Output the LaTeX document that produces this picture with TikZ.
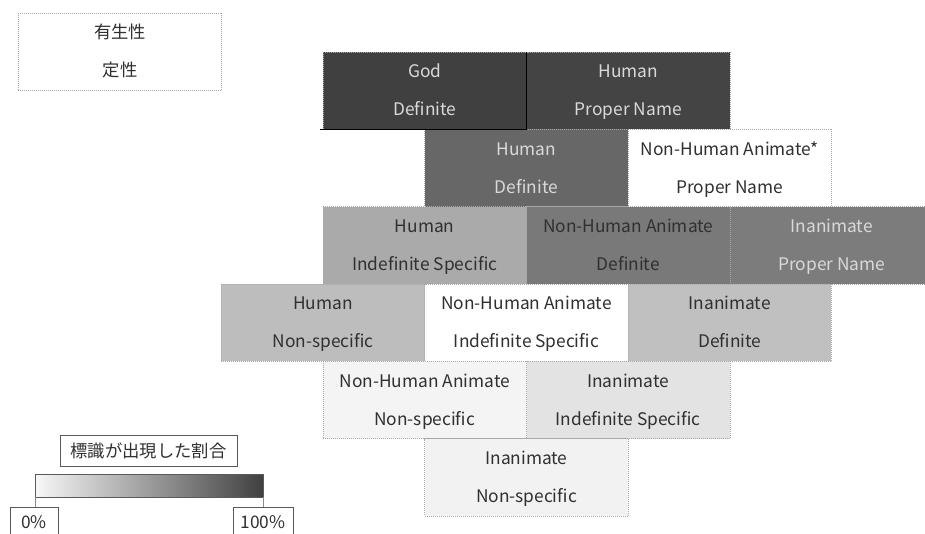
\documentclass[tikz,border=0pt]{standalone}
\usepackage{fontspec}
\setmainfont{Noto Sans CJK JP}
\definecolor{cA}{HTML}{404040}
\definecolor{cB}{HTML}{444444}
\definecolor{cC}{HTML}{676767}
\definecolor{cD}{HTML}{AAAAAA}
\definecolor{cE}{HTML}{797979}
\definecolor{cF}{HTML}{7C7C7C}
\definecolor{cG}{HTML}{BDBDBD}
\definecolor{cH}{HTML}{C0C0C0}
\definecolor{cI}{HTML}{F4F4F4}
\definecolor{cJ}{HTML}{E3E3E3}
\definecolor{cK}{HTML}{F2F2F2}
\definecolor{txtlight}{HTML}{D9D9D9}
\definecolor{txtdark}{HTML}{303030}
\definecolor{edge}{HTML}{A8A8A8}
\definecolor{lgd}{HTML}{5A5A5A}
\newcommand\lnstrut{\vrule width 0pt height 12.5pt depth 3.5pt}
\newcommand\twolines[2]{\lnstrut #1\\\lnstrut #2}
\begin{document}
\begin{tikzpicture}[x=0.75pt,y=-0.75pt,
  cell/.style={draw=edge, densely dotted, line width=0.5pt, minimum width=152.6pt,
    minimum height=58pt, inner sep=0pt, outer sep=0pt, align=center,
    font=\fontsize{13}{28.5}\selectfont, text=txtdark},
  lighttext/.style={text=txtlight},
  lbox/.style={draw=lgd, line width=0.7pt, inner sep=0pt, outer sep=0pt,
    font=\fontsize{13}{15}\selectfont, text=txtdark}
]
\clip (0,0) rectangle (925,533);
\useasboundingbox (0,0) rectangle (925,533);
\fill[white] (0,0) rectangle (925,533);

% legend top-left
\node[cell] (legend) at (120,51.5) {\twolines{有生性}{定性}};

% row 1
\node[cell, fill=cA, lighttext] (god) at (424.75,90.67) {\twolines{God}{Definite}};
\node[cell, fill=cB, lighttext] (humprop) at (628.25,90.67) {\twolines{Human}{Proper Name}};
% row 2
\node[cell, fill=cC, lighttext] (humdef) at (526.5,168) {\twolines{Human}{Definite}};
\node[cell, fill=white] (nhaprop) at (729.75,168) {\twolines{Non-Human Animate*}{Proper Name}};
% row 3
\node[cell, fill=cD] (humindef) at (424.75,245.3) {\twolines{Human}{Indefinite Specific}};
\node[cell, fill=cE] (nhadef) at (628.25,245.3) {\twolines{Non-Human Animate}{Definite}};
\node[cell, fill=cF, lighttext] (inprop) at (831.75,245.3) {\twolines{Inanimate}{Proper Name}};
% row 4
\node[cell, fill=cG] (humnon) at (323,322.7) {\twolines{Human}{Non-specific}};
\node[cell, fill=white] (nhaindef) at (526.5,322.7) {\twolines{Non-Human Animate}{Indefinite Specific}};
\node[cell, fill=cH] (indef) at (729.75,322.7) {\twolines{Inanimate}{Definite}};
% row 5
\node[cell, fill=cI] (nhanon) at (424.75,400) {\twolines{Non-Human Animate}{Non-specific}};
\node[cell, fill=cJ] (inindef) at (628.25,400) {\twolines{Inanimate}{Indefinite Specific}};
% row 6
\node[cell, fill=cK] (innon) at (526.5,477.3) {\twolines{Inanimate}{Non-specific}};

% solid edges of the God cell
\draw[black, line width=0.7pt] ([xshift=-2.5pt]god.south west) -- (god.south east) -- (god.north east);

% bottom-left legend
\node[lbox, minimum width=132.75pt, minimum height=23.25pt] (title) at (148.5,450.5) {標識が出現した割合};
\node[draw=lgd, line width=0.7pt, left color=white!97!black, right color=cA,
  minimum width=171pt, minimum height=17.25pt, inner sep=0pt, outer sep=0pt] (bar) at (149,485.5) {};
\node[lbox, minimum width=36pt, minimum height=22.5pt] (zero) at (34,522) {0\%};
\node[lbox, minimum width=45pt, minimum height=22.5pt] (hundred) at (263,522) {100\%};
\draw[draw=lgd!70, line width=0.7pt] (bar.south west) -- (bar.south west |- zero.north);
\draw[draw=lgd!70, line width=0.7pt] (bar.south east) -- (bar.south east |- hundred.north);
\end{tikzpicture}
\end{document}
